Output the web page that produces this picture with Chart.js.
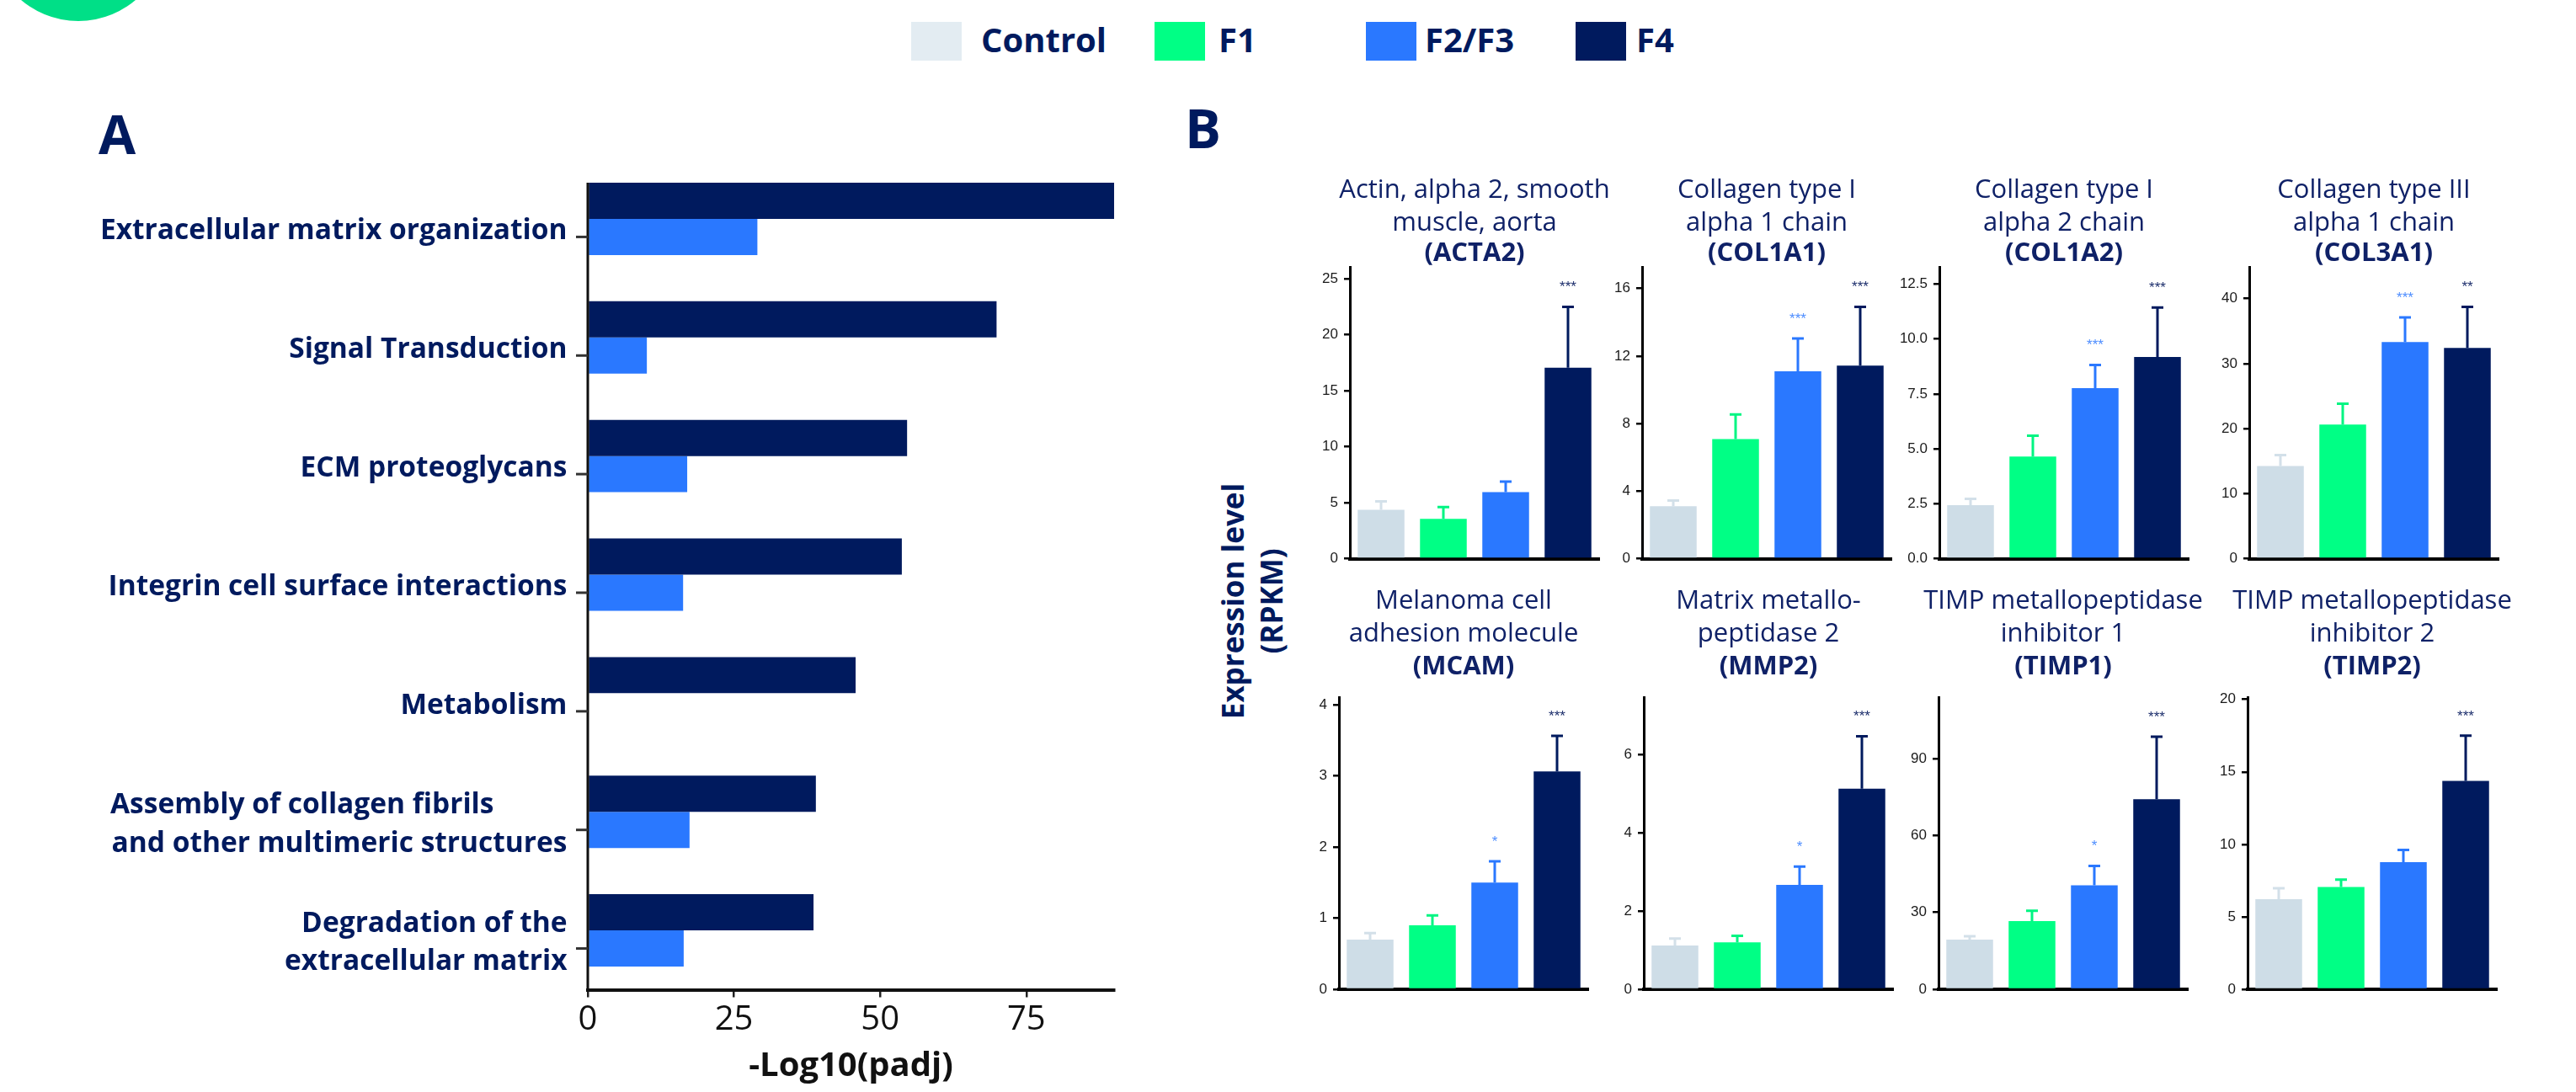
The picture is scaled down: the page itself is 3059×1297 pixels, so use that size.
<!DOCTYPE html>
<html>
<head>
<meta charset="utf-8">
<script src="https://cdn.jsdelivr.net/npm/chart.js@4.4.1/dist/chart.umd.min.js"></script>
<style>
  body { margin: 0; background: #fff; width: 3059px; height: 1297px; overflow: hidden; position: relative; font-family: 'Open Sans', sans-serif; color: #001a5e; }
  canvas { position: absolute; }
  .blob { position: absolute; left: -12px; top: -185px; width: 210px; height: 210px; border-radius: 50%; background: #00df87; }
  .letter { position: absolute; font-weight: 700; font-size: 64px; line-height: 64px; }
  .leg-box { position: absolute; top: 26px; width: 60px; height: 46px; }
  .leg-txt { position: absolute; top: 27px; font-weight: 700; font-size: 40px; line-height: 40px; white-space: nowrap; }
  .ylab { position: absolute; left: 1487px; top: 714px; transform: translate(-50%, -50%) rotate(-90deg); font-weight: 700; font-size: 35px; line-height: 46px; text-align: center; white-space: nowrap; }
</style>
</head>
<body>
<div class="blob"></div>
<div class="letter" style="left:117px;top:127px">A</div>
<div class="letter" style="left:1407px;top:120px">B</div>
<div id="legend"></div>
<div class="ylab">Expression level<br>(RPKM)</div>
<canvas id="pathways" width="1370" height="1297" style="left:0;top:0"></canvas>
<script>
// ---- data ----
const groups = ['Control', 'F1', 'F2/F3', 'F4'];

// panel A: enriched pathways, -log10(padj)
const pathways = [
  'Extracellular matrix organization',
  'Signal Transduction',
  'ECM proteoglycans',
  'Integrin cell surface interactions',
  'Metabolism',
  ['Assembly of collagen fibrils          ', 'and other multimeric structures'],
  ['Degradation of the', 'extracellular matrix']
];
const padjF4 = [90, 69.9, 54.6, 53.7, 45.8, 39.0, 38.6];
const padjF23 = [29.0, 10.1, 17.0, 16.3, null, 17.4, 16.4];
const padjMax = 90;
const padjStep = 25;

// panel B: expression level (RPKM), mean and SEM per group
const genes = ['ACTA2', 'COL1A1', 'COL1A2', 'COL3A1', 'MCAM', 'MMP2', 'TIMP1', 'TIMP2'];
const geneNames = [
  ['Actin, alpha 2, smooth', 'muscle, aorta'],
  ['Collagen type I', 'alpha 1 chain'],
  ['Collagen type I', 'alpha 2 chain'],
  ['Collagen type III', 'alpha 1 chain'],
  ['Melanoma cell', 'adhesion molecule'],
  ['Matrix metallo-', 'peptidase 2'],
  ['TIMP metallopeptidase', 'inhibitor 1'],
  ['TIMP metallopeptidase', 'inhibitor 2']
];
const acta2 = [4.37, 3.56, 5.94, 17.04];
const acta2Sem = [0.74, 1.06, 0.95, 5.43];
const col1a1 = [3.11, 7.08, 11.10, 11.43];
const col1a1Sem = [0.33, 1.46, 1.94, 3.48];
const col1a2 = [2.44, 4.65, 7.77, 9.18];
const col1a2Sem = [0.29, 0.95, 1.05, 2.26];
const col3a1 = [14.26, 20.62, 33.34, 32.43];
const col3a1Sem = [1.69, 3.23, 3.79, 6.29];
const mcam = [0.70, 0.90, 1.50, 3.06];
const mcamSem = [0.09, 0.14, 0.30, 0.50];
const mmp2 = [1.12, 1.20, 2.67, 5.13];
const mmp2Sem = [0.18, 0.17, 0.47, 1.34];
const timp1 = [19.4, 26.6, 40.6, 74.1];
const timp1Sem = [1.3, 4.0, 7.5, 24.4];
const timp2 = [6.22, 7.06, 8.77, 14.38];
const timp2Sem = [0.75, 0.51, 0.85, 3.11];
const stars = [
  ['', '', '', '***'],
  ['', '', '***', '***'],
  ['', '', '***', '***'],
  ['', '', '***', '**'],
  ['', '', '*', '***'],
  ['', '', '*', '***'],
  ['', '', '*', '***'],
  ['', '', '', '***']
];
const yMax = [26, 17.25, 13.26, 44.8, 4.1, 7.46, 113.8, 20.13];
const yStep = [5, 4, 2.5, 10, 1, 2, 30, 5];

const means = [acta2, col1a1, col1a2, col3a1, mcam, mmp2, timp1, timp2];
const sems = [acta2Sem, col1a1Sem, col1a2Sem, col3a1Sem, mcamSem, mmp2Sem, timp1Sem, timp2Sem];

// ---- styling ----
const NAVY = '#001a5e';
const barColors = ['#cedde7', '#00ff85', '#2a78ff', '#001a5e'];
const errColors = ['#d3e0e9', '#00f582', '#2a78ff', '#001a5e'];
const starColors = ['#cedde7', '#00ff85', '#4d8dff', '#1b2d6b'];
const legendColors = ['#e3ecf2', '#00ff85', '#2a78ff', '#001a5e'];
const legendBoxX = [1082, 1371, 1622, 1871];
const legendTxtX = [1165, 1447, 1692, 1943];

Chart.defaults.font.family = "'Open Sans', sans-serif";
Chart.defaults.animation = false;

// legend (HTML)
const legend = document.getElementById('legend');
groups.forEach((g, i) => {
  legend.insertAdjacentHTML('beforeend',
    `<div class="leg-box" style="left:${legendBoxX[i]}px;background:${legendColors[i]}"></div>` +
    `<div class="leg-txt" style="left:${legendTxtX[i]}px">${g}</div>`);
});

// ---- panel A ----
// y axis line starts at the first bar, tick marks sit at the lower (F2/F3) bar
const axisA = {
  id: 'axisA',
  afterDraw(chart) {
    const s = chart.scales.y;
    const ctx = chart.ctx;
    const first = chart.getDatasetMeta(0).data[0];
    const shift = chart.getDatasetMeta(1).data[0].y - s.getPixelForTick(0);
    ctx.save();
    ctx.strokeStyle = '#111';
    ctx.lineWidth = 3;
    ctx.beginPath();
    ctx.moveTo(s.right, first.y - first.height / 2);
    ctx.lineTo(s.right, chart.chartArea.bottom);
    ctx.stroke();
    ctx.strokeStyle = '#333';
    s.ticks.forEach((t, i) => {
      const y = s.getPixelForTick(i) + shift;
      ctx.beginPath();
      ctx.moveTo(s.right - 14, y);
      ctx.lineTo(s.right, y);
      ctx.stroke();
    });
    ctx.restore();
  }
};

new Chart(document.getElementById('pathways'), {
  type: 'bar',
  data: {
    labels: pathways,
    datasets: [
      { label: 'F4', data: padjF4, backgroundColor: NAVY },
      { label: 'F2/F3', data: padjF23, backgroundColor: '#2a78ff' }
    ]
  },
  options: {
    indexAxis: 'y',
    responsive: false,
    datasets: { bar: { categoryPercentage: 0.61, barPercentage: 1 } },
    layout: { padding: { top: 189.5, right: 47, bottom: 0, left: 0 } },
    plugins: { legend: { display: false }, tooltip: { enabled: false } },
    scales: {
      x: {
        min: 0,
        max: padjMax,
        ticks: { stepSize: padjStep, includeBounds: false, color: '#111', padding: 4, font: { size: 40, lineHeight: 1.15 } },
        grid: { drawOnChartArea: false, tickLength: 9, color: '#222', lineWidth: 2.5 },
        border: { color: '#111', width: 4 },
        title: { display: true, text: '-Log10(padj)', color: '#111', font: { size: 40, weight: 'bold', lineHeight: 1.2 }, padding: { top: 0, bottom: 6 } },
        afterFit: s => { s.height = 121.5; }
      },
      y: {
        grid: { display: false, tickLength: 0 },
        border: { display: false },
        ticks: { color: NAVY, padding: 24.5, labelOffset: 15, font: { size: 33.5, weight: 'bold', lineHeight: '45.5px' } },
        afterFit: s => { s.width = 698; }
      }
    }
  },
  plugins: [axisA]
});

// ---- panel B ----
const errorBars = {
  id: 'errorBars',
  afterDatasetsDraw(chart, args, opts) {
    const ctx = chart.ctx;
    const y = chart.scales.y;
    const vals = chart.data.datasets[0].data;
    chart.getDatasetMeta(0).data.forEach((bar, k) => {
      const top = y.getPixelForValue(vals[k] + opts.sem[k]);
      ctx.save();
      ctx.strokeStyle = errColors[k];
      ctx.lineWidth = 3;
      ctx.beginPath();
      ctx.moveTo(bar.x, bar.y);
      ctx.lineTo(bar.x, top);
      ctx.moveTo(bar.x - 7, top);
      ctx.lineTo(bar.x + 7, top);
      ctx.stroke();
      if (opts.stars[k]) {
        ctx.fillStyle = starColors[k];
        ctx.font = "17px 'Liberation Sans', Arial, sans-serif";
        ctx.textAlign = 'center';
        ctx.textBaseline = 'middle';
        ctx.fillText(opts.stars[k], bar.x, top - 23);
      }
      ctx.restore();
    });
  }
};

// plot-area left edges and row geometry
const plotLeft = [1603, 1950, 2303, 2671, 1590, 1952, 2302, 2669];
const rows = [
  { top: 190, height: 494, padBottom: 20.4, titleTop: 17.15, subTop: 1.5, subBottom: 0 },
  { top: 680, height: 516, padBottom: 20.9, titleTop: 15.35, subTop: 3.45, subBottom: 20.6 }
];
const AXIS_W = 60;
const PLOT_W = 296;

genes.forEach((gene, i) => {
  const row = rows[i < 4 ? 0 : 1];
  const cv = document.createElement('canvas');
  cv.width = PLOT_W + 2 * AXIS_W;
  cv.height = row.height;
  cv.style.left = (plotLeft[i] - AXIS_W) + 'px';
  cv.style.top = row.top + 'px';
  document.body.appendChild(cv);

  new Chart(cv, {
    type: 'bar',
    data: {
      labels: groups,
      datasets: [{ data: means[i], backgroundColor: barColors, categoryPercentage: 1, barPercentage: 0.75 }]
    },
    options: {
      responsive: false,
      layout: { padding: { top: 0, left: 0, right: 0, bottom: row.padBottom } },
      plugins: {
        legend: { display: false },
        tooltip: { enabled: false },
        title: {
          display: true, text: geneNames[i], color: '#0f2167',
          font: { size: 31, weight: 'normal', lineHeight: '38.5px' },
          padding: { top: row.titleTop, bottom: 0 }
        },
        subtitle: {
          display: true, text: '(' + gene + ')', color: '#0f2167',
          font: { size: 31, weight: 'bold', lineHeight: '32px' },
          padding: { top: row.subTop, bottom: row.subBottom }
        },
        errorBars: { sem: sems[i], stars: stars[i] }
      },
      scales: {
        x: {
          grid: { display: false },
          ticks: { display: false },
          border: { color: '#000', width: 4 },
          afterFit: s => { s.height = 0; }
        },
        y: {
          min: 0,
          max: yMax[i],
          ticks: {
            stepSize: yStep[i], includeBounds: false, padding: 7, color: '#1a1a1a',
            font: { family: "'Liberation Sans', Arial, sans-serif", size: 17 },
            callback: v => (yStep[i] % 1 ? v.toFixed(1) : v)
          },
          grid: { drawOnChartArea: false, tickLength: 7, color: '#000', lineWidth: 2.5 },
          border: { color: '#000', width: 3 },
          afterFit: s => { s.width = AXIS_W; }
        },
        pad: {
          position: 'right',
          grid: { display: false },
          border: { display: false },
          ticks: { display: false },
          afterFit: s => { s.width = AXIS_W; }
        }
      }
    },
    plugins: [errorBars]
  });
});
</script>
</body>
</html>
